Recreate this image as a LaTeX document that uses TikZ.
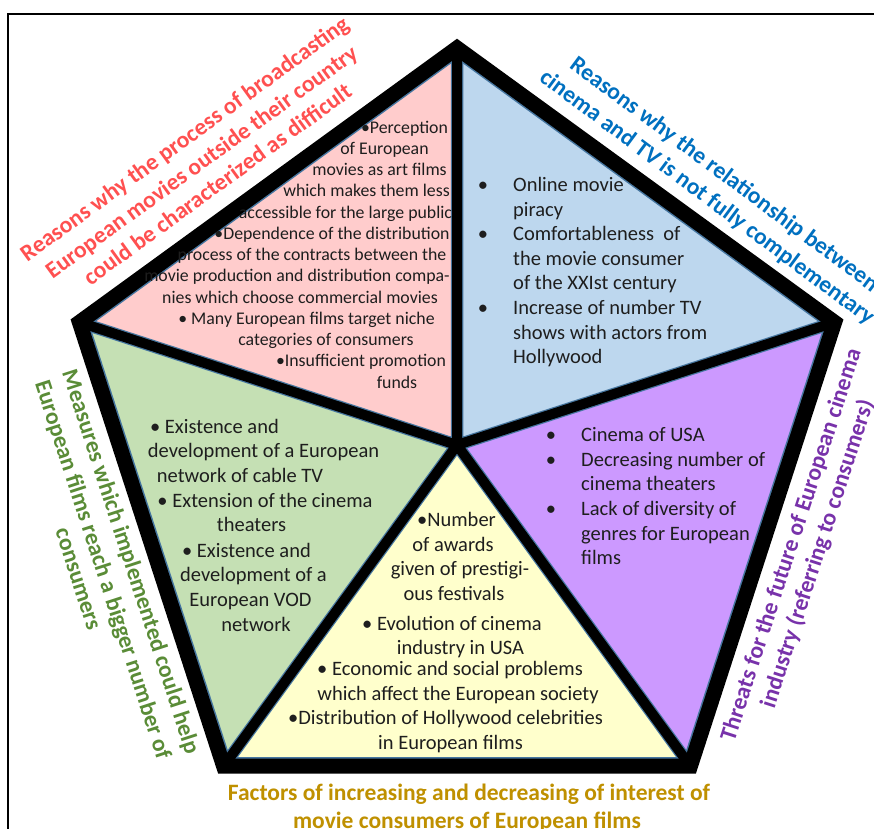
\documentclass[tikz,border=0pt]{standalone}
\usepackage{fontspec}
\setmainfont{Carlito}
\definecolor{pinkf}{RGB}{255,204,204}
\definecolor{bluef}{RGB}{189,215,238}
\definecolor{purplef}{RGB}{204,153,255}
\definecolor{yellowf}{RGB}{255,255,204}
\definecolor{greenf}{RGB}{197,224,180}
\definecolor{edgec}{RGB}{70,118,160}
\definecolor{redl}{RGB}{255,80,80}
\definecolor{bluel}{RGB}{0,112,192}
\definecolor{greenl}{RGB}{90,140,55}
\definecolor{purplel}{RGB}{120,50,170}
\definecolor{goldl}{RGB}{191,144,0}
\definecolor{txt}{RGB}{30,30,30}
\begin{document}
\begin{tikzpicture}[x=1pt,y=-1pt,
  body/.style={font=\fontsize{20.5}{24.6}\selectfont, inner sep=0pt, text=txt},
  small/.style={font=\fontsize{17.8}{21}\selectfont, inner sep=0pt, text=txt, anchor=base},
  lab/.style={font=\fontsize{23.5}{28}\selectfont\bfseries, inner sep=0pt, anchor=base},
  spoke/.style={line width=10pt},
  rim/.style={line width=15pt, line join=miter}]
\useasboundingbox (0,0) rectangle (874,828);
\draw[line width=2pt] (7.5,13.5) rectangle (890,850);
% pentagon geometry
\coordinate (C) at (457,445);
\coordinate (T) at (457,48);
\coordinate (UR) at (834.6,322.3);
\coordinate (LR) at (690.4,766.2);
\coordinate (LL) at (223.6,766.2);
\coordinate (UL) at (79.4,322.3);
% wedges
\fill[pinkf] (C) -- (UL) -- (T) -- cycle;
\fill[bluef] (C) -- (T) -- (UR) -- cycle;
\fill[purplef] (C) -- (UR) -- (LR) -- cycle;
\fill[yellowf] (C) -- (LR) -- (LL) -- cycle;
\fill[greenf] (C) -- (LL) -- (UL) -- cycle;
% thin edges of the wedges
\begin{scope}
\clip (T) -- (UR) -- (LR) -- (LL) -- (UL) -- cycle;
\draw[edgec, line width=18pt, line join=miter] (T) -- (UR) -- (LR) -- (LL) -- (UL) -- cycle;
\end{scope}
\draw[edgec, line width=12.5pt] (C) -- (T) (C) -- (UR) (C) -- (LR) (C) -- (LL) (C) -- (UL);
% black frame
\draw[black, spoke] (C) -- (T) (C) -- (UR) (C) -- (LR) (C) -- (LL) (C) -- (UL);
\draw[black, rim] (T) -- (UR) -- (LR) -- (LL) -- (UL) -- cycle;

% pink wedge text
\node[small] (p1) at (404.5,133) {•Perception};
\node[small] (p2) at (384.5,154.25) {of European};
\node[small] (p3) at (379.5,175.5) {movies as art films};
\node[small] (p4) at (366.5,196.75) {which makes them less};
\node[small] (p5) at (345.5,218) {accessible for the large public};
\node[small] (p6) at (332,239.25) {•Dependence of the distribution};
\node[small] (p7) at (312,260.5) {process of the contracts between the};
\node[small] (p8) at (297,281.75) {movie production and distribution compa-};
\node[small] (p9) at (300,303) {nies which choose commercial movies};
\node[small] (p10) at (306.5,324.25) {• Many European films target niche};
\node[small] (p11) at (326,345.5) {categories of consumers};
\node[small] (p12) at (361,366.75) {•Insufficient promotion};
\node[small] (p13) at (397,388) {funds};

% blue wedge text
\node[body, anchor=base] (bb1) at (483,191.5) {•};
\node[body, anchor=base] (bb2) at (483,240.5) {•};
\node[body, anchor=base] (bb3) at (483,314.5) {•};
\node[body, anchor=base west] (b1) at (513,191.5) {Online movie};
\node[body, anchor=base west] (b2) at (513,216) {piracy};
\node[body, anchor=base west] (b3) at (513,240.5) {Comfortableness\ \ of};
\node[body, anchor=base west] (b4) at (513,265) {the movie consumer};
\node[body, anchor=base west] (b5) at (513,289.5) {of the XXIst century};
\node[body, anchor=base west] (b6) at (513,314.5) {Increase of number TV};
\node[body, anchor=base west] (b7) at (513,339) {shows with actors from};
\node[body, anchor=base west] (b8) at (513,363.5) {Hollywood};

% purple wedge text
\node[body, anchor=base] (vb1) at (551,441.7) {•};
\node[body, anchor=base] (vb2) at (551,466.3) {•};
\node[body, anchor=base] (vb3) at (551,515.5) {•};
\node[body, anchor=base west] (v1) at (581,441.7) {Cinema of USA};
\node[body, anchor=base west] (v2) at (581,466.3) {Decreasing number of};
\node[body, anchor=base west] (v3) at (581,490.9) {cinema theaters};
\node[body, anchor=base west] (v4) at (581,515.5) {Lack of diversity of};
\node[body, anchor=base west] (v5) at (581,540.1) {genres for European};
\node[body, anchor=base west] (v6) at (581,564.7) {films};

% green wedge text
\node[body, anchor=base] (g1) at (214.5,433) {• Existence and};
\node[body, anchor=base] (g2) at (263.5,457.7) {development of a European};
\node[body, anchor=base] (g3) at (240,482.4) {network of cable TV};
\node[body, anchor=base] (g4) at (265,507.1) {• Extension of the cinema};
\node[body, anchor=base] (g5) at (251.5,531.8) {theaters};
\node[body, anchor=base] (g6) at (246.5,557) {• Existence and};
\node[body, anchor=base] (g7) at (253.5,581.7) {development of a};
\node[body, anchor=base] (g8) at (250.5,606.4) {European VOD};
\node[body, anchor=base] (g9) at (256,631.1) {network};

% yellow wedge text
\node[body, anchor=base] (y1) at (456.5,526) {•Number};
\node[body, anchor=base] (y2) at (453,551) {of awards};
\node[body, anchor=base] (y3) at (460,575) {given of prestigi-};
\node[body, anchor=base] (y4) at (454,600) {ous festivals};
\node[body, anchor=base] (y5) at (452,630) {• Evolution of cinema};
\node[body, anchor=base] (y6) at (460.5,654) {industry in USA};
\node[body, anchor=base] (y7) at (450,675) {• Economic and social problems};
\node[body, anchor=base] (y8) at (458,700) {which affect the European society};
\node[body, anchor=base] (y9) at (445.5,724) {•Distribution of Hollywood celebrities};
\node[body, anchor=base] (y10) at (450.5,749) {in European films};

% outer labels
\node[lab, text=redl, rotate=36] (r1) at (189,145) {Reasons why the process of broadcasting};
\node[lab, text=redl, rotate=36] (r2) at (206,168) {European movies outside their country};
\node[lab, text=redl, rotate=36] (r3) at (222,190.6) {could be characterized as difficult};

\node[lab, text=bluel, rotate=-36.6] (l1) at (720,180) {Reasons why the relationship between};
\node[lab, text=bluel, rotate=-36.6] (l2) at (703,203) {cinema and TV is not fully complementary};

\node[lab, text=greenl, rotate=-72] (m1) at (124,564) {Measures which implemented could help};
\node[lab, text=greenl, rotate=-72] (m2) at (96,572) {European films reach a bigger number of};
\node[lab, text=greenl, rotate=-72] (m3) at (71.4,581) {consumers};

\node[lab, text=purplel, rotate=72] (t1) at (797.7,547) {Threats for the future of European cinema};
\node[lab, text=purplel, rotate=72] (t2) at (824,556) {industry (referring to consumers)};

\node[lab, text=goldl] (f1) at (469,800) {Factors of increasing and decreasing of interest of};
\node[lab, text=goldl] (f2) at (467,828.5) {movie consumers of European films};
\end{tikzpicture}
\end{document}
